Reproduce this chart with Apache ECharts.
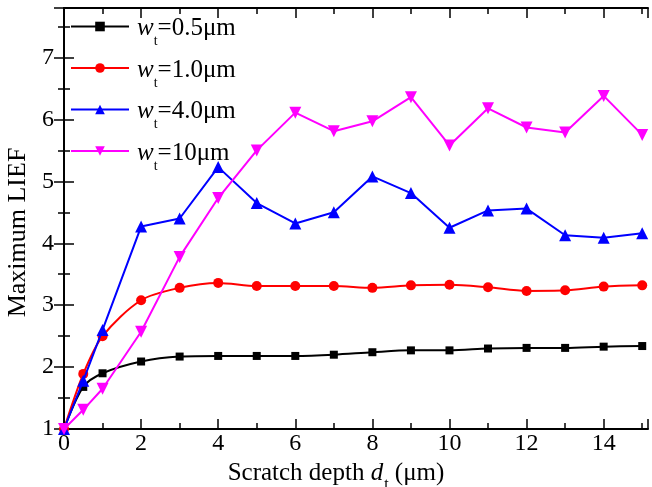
<!DOCTYPE html>
<html>
<head>
<meta charset="utf-8">
<script src="https://cdn.jsdelivr.net/npm/echarts@6/dist/echarts.min.js"></script>
<style>
  html, body { margin: 0; padding: 0; background: #fff; }
  #chart { width: 652px; height: 487px; }
</style>
</head>
<body>
<div id="chart"></div>
<script>
// scratch depth d_t (µm)
const depths = [0, 0.5, 1, 2, 3, 4, 5, 6, 7, 8, 9, 10, 11, 12, 13, 14, 15];

// maximum LIEF
const lief05 = [1.00, 1.68, 1.90, 2.09, 2.17, 2.18, 2.18, 2.18, 2.20, 2.24, 2.27, 2.27, 2.30, 2.31, 2.31, 2.33, 2.34];
const lief10 = [1.00, 1.89, 2.50, 3.08, 3.28, 3.36, 3.31, 3.31, 3.31, 3.28, 3.32, 3.33, 3.29, 3.23, 3.24, 3.30, 3.32];
const lief40 = [1.00, 1.78, 2.60, 4.27, 4.40, 5.23, 4.65, 4.32, 4.50, 5.08, 4.81, 4.25, 4.53, 4.56, 4.13, 4.09, 4.16];
const lief100 = [1.00, 1.31, 1.65, 2.57, 3.78, 4.73, 5.50, 6.11, 5.81, 5.97, 6.36, 5.58, 6.18, 5.87, 5.79, 6.38, 5.75];

const seriesNames = ["0.5μm", "1.0μm", "4.0μm", "10μm"];
const xTickLabels = [0, 2, 4, 6, 8, 10, 12, 14];
const yTickLabels = [1, 2, 3, 4, 5, 6, 7];

const FONT = "Liberation Serif, Times New Roman, serif";
const FS = 24;
const chart = echarts.init(document.getElementById("chart"));

function pairs(ys) { return depths.map((d, i) => [d, ys[i]]); }

const xRange = { min: 0, max: 15.15 };
const yRange = { min: 1, max: 7.8 };

// 主轴带线和长刻度，副轴只画短刻度
function xAx(pos, interval, len, main) {
    return Object.assign({
        type: "value", position: pos, interval: interval,
        axisLine: { show: main, lineStyle: { color: "#000", width: 2 } },
        axisTick: { show: true, inside: true, length: len, lineStyle: { color: "#000", width: 1.5 } },
        axisLabel: { show: false }, splitLine: { show: false }
    }, xRange);
}
function yAx(pos, interval, len, main) {
    return Object.assign({
        type: "value", position: pos, interval: interval,
        axisLine: { show: main, lineStyle: { color: "#000", width: 2 } },
        axisTick: { show: true, inside: true, length: len, lineStyle: { color: "#000", width: 1.5 } },
        axisLabel: { show: false }, splitLine: { show: false }
    }, yRange);
}

const xMain = xAx("bottom", 2, 10, true);
xMain.axisLabel = {
    show: true, margin: 3, color: "#000", fontFamily: FONT, fontSize: FS,
    formatter: v => xTickLabels.includes(v) ? String(v) : ""
};
xMain.name = "{a|Scratch depth }{d|d}{t|t}{a| (μm)}";
xMain.nameLocation = "middle";
xMain.nameGap = 12;
xMain.nameTextStyle = {
    padding: [0, 40, 0, 0],
    rich: {
        a: { fontFamily: FONT, fontSize: 25, color: "#000" },
        d: { fontFamily: FONT, fontSize: 25, fontStyle: "italic", color: "#000" },
        t: { fontFamily: FONT, fontSize: 16, color: "#000", padding: [23, 0, 0, 1] }
    }
};

const yMain = yAx("left", 1, 10, true);
yMain.axisLabel = {
    show: true, margin: 10, color: "#000", fontFamily: FONT, fontSize: FS,
    formatter: v => yTickLabels.includes(v) ? String(v) : ""
};
yMain.name = "Maximum LIEF";
yMain.nameLocation = "middle";
yMain.nameGap = 31;
yMain.nameTextStyle = { fontFamily: FONT, fontSize: 26, color: "#000", padding: [0, 28, 0, 0] };

const legendRich = {
    w: { fontFamily: FONT, fontSize: 25, fontStyle: "italic", color: "#000", padding: [4, 0, 0, 3] },
    t: { fontFamily: FONT, fontSize: 14, color: "#000", padding: [30, 0, 0, 0] },
    n: { fontFamily: FONT, fontSize: 25, color: "#000", padding: [4, 0, 0, 0] }
};

const colors = ["#000000", "#ff0000", "#0000ff", "#ff00ff"];
const symbols = ["rect", "circle", "triangle", "triangle"];
const symbolSizes = [8, 10, 12, 12];
const rotations = [0, 0, 0, 180];
const allData = [lief05, lief10, lief40, lief100];

chart.setOption({
    animation: false,
    backgroundColor: "#fff",
    grid: { left: 64, right: 4, top: 8, bottom: 58, containLabel: false, outerBoundsMode: "none" },
    legend: {
        orient: "vertical", left: 70, top: 16, padding: 0,
        itemWidth: 58, itemHeight: 12, itemGap: 9,
        data: seriesNames,
        formatter: name => "{w|w}{t|t}{n|=" + name + "}",
        textStyle: { rich: legendRich }
    },
    xAxis: [xMain, xAx("bottom", 1, 6, false), xAx("top", 2, 10, true), xAx("top", 1, 6, false)],
    yAxis: [yMain, yAx("left", 0.5, 6, false), yAx("right", 1, 10, true), yAx("right", 0.5, 6, false)],
    series: allData.map((ys, i) => ({
        name: seriesNames[i],
        type: "line",
        xAxisIndex: 0, yAxisIndex: 0,
        data: pairs(ys),
        smooth: i < 2 ? 0.3 : false,
        symbol: symbols[i],
        symbolSize: symbolSizes[i],
        symbolRotate: rotations[i],
        itemStyle: { color: colors[i] },
        lineStyle: { color: colors[i], width: 2 },
        z: 2 + i
    }))
});
</script>
</body>
</html>
